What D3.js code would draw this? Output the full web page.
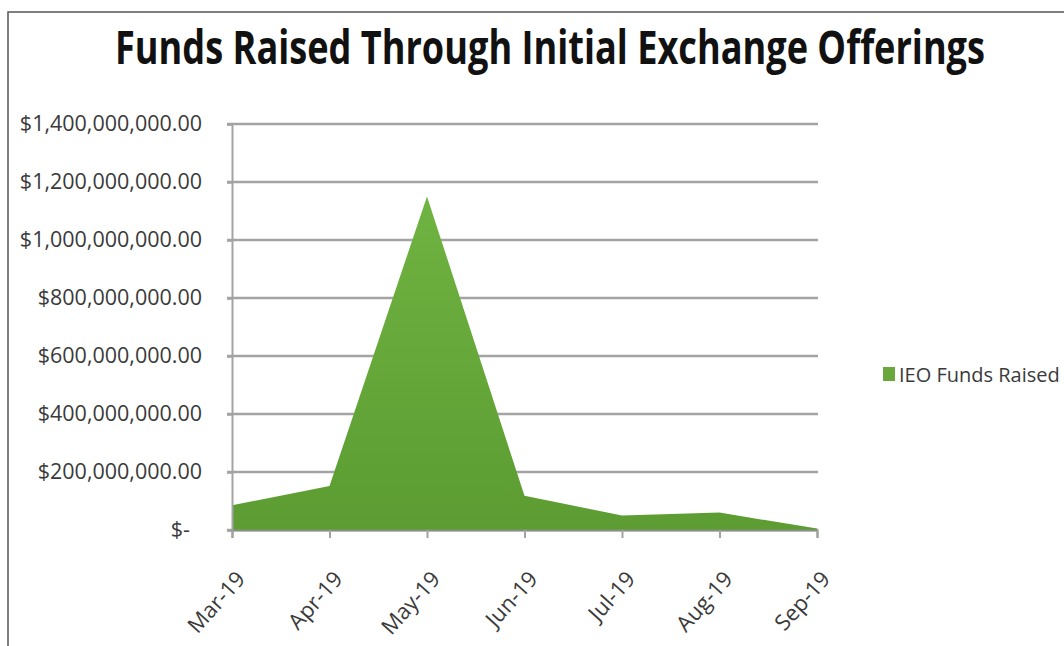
<!DOCTYPE html>
<html>
<head>
<meta charset="utf-8">
<script src="https://cdn.jsdelivr.net/npm/d3@7"></script>
<style>
  body { margin: 0; background: #fff; }
  svg { display: block; }
</style>
</head>
<body>
<script>
var w = 1064;
var h = 646;

// data
var months = ["Mar-19", "Apr-19", "May-19", "Jun-19", "Jul-19", "Aug-19", "Sep-19"];
var funds = [85000000, 152000000, 1150000000, 118000000, 50000000, 60000000, 5000000];
var yTicks = [0, 200000000, 400000000, 600000000, 800000000, 1000000000, 1200000000, 1400000000];
var seriesName = "IEO Funds Raised";

var plotLeft = 232, plotRight = 817, plotTop = 124, plotBottom = 530;

var svg = d3.select("body")
            .append("svg")
            .attr("width", w)
            .attr("height", h);

var defs = svg.append("defs");
var grad = defs.append("linearGradient")
    .attr("id", "green")
    .attr("x1", 0).attr("y1", 0).attr("x2", 0).attr("y2", 1);
grad.append("stop").attr("offset", "0%").attr("stop-color", "#6fb341");
grad.append("stop").attr("offset", "100%").attr("stop-color", "#5c9c32");

// outer frame
svg.append("path")
    .attr("d", "M8," + h + " V12 H" + w)
    .attr("fill", "none")
    .attr("stroke", "#555")
    .attr("stroke-width", 1.5);

svg.append("text")
    .text("Funds Raised Through Initial Exchange Offerings")
    .attr("x", 550)
    .attr("y", 64)
    .attr("text-anchor", "middle")
    .attr("font-family", "Open Sans")
    .attr("font-weight", "bold")
    .attr("font-size", "47px")
    .attr("textLength", 870)
    .attr("lengthAdjust", "spacingAndGlyphs")
    .attr("fill", "#111");

var x = d3.scalePoint().domain(months).range([plotLeft, plotRight]);
var y = d3.scaleLinear().domain([0, 1400000000]).range([plotBottom, plotTop]);

// gridlines
svg.append("g")
    .selectAll("line")
    .data(yTicks)
    .enter()
    .append("line")
    .attr("x1", plotLeft - 5)
    .attr("x2", plotRight + 1)
    .attr("y1", function(d){ return y(d); })
    .attr("y2", function(d){ return y(d); })
    .attr("stroke", "#a3a3a3")
    .attr("stroke-width", 2.5);

var area = d3.area()
    .x(function(d, i){ return x(months[i]); })
    .y0(y(0))
    .y1(function(d){ return y(d); });

svg.append("path")
    .datum(funds)
    .attr("d", area)
    .attr("fill", "url(#green)");

var fmt = d3.format(",.2f");
var yAxis = svg.append("g")
    .attr("transform", "translate(" + plotLeft + ",0)")
    .call(d3.axisLeft(y)
        .tickValues(yTicks)
        .tickSize(5)
        .tickPadding(25)
        .tickFormat(function(d){ return d === 0 ? "$-" : "$" + fmt(d); }));

yAxis.select(".domain").attr("stroke", "#a3a3a3").attr("stroke-width", 2);
yAxis.selectAll(".tick line").attr("stroke", "#a3a3a3").attr("stroke-width", 2.5);
yAxis.selectAll(".tick text")
    .attr("font-family", "Open Sans")
    .attr("font-size", "21.5px")
    .attr("fill", "#3a3a3a")
    .attr("dx", function(d){ return d === 0 ? "-12" : "0"; });

var xAxis = svg.append("g")
    .attr("transform", "translate(0," + plotBottom + ")")
    .call(d3.axisBottom(x).tickSize(8));

xAxis.select(".domain").attr("stroke", "#8a8f84").attr("stroke-width", 2);
xAxis.selectAll(".tick line").attr("stroke", "#a3a3a3").attr("stroke-width", 2);
xAxis.selectAll(".tick text")
    .attr("font-family", "Open Sans")
    .attr("font-size", "22px")
    .attr("fill", "#3a3a3a")
    .attr("text-anchor", "end")
    .attr("y", 0)
    .attr("dy", 0)
    .attr("transform", "translate(14,50) rotate(-48)");

// legend
svg.append("rect")
    .attr("x", 883)
    .attr("y", 367)
    .attr("width", 12)
    .attr("height", 14)
    .attr("fill", "#6aa83d");

svg.append("text")
    .text(seriesName)
    .attr("x", 899)
    .attr("y", 382)
    .attr("font-family", "Open Sans")
    .attr("font-size", "20px")
    .attr("fill", "#3a3a3a");
</script>
</body>
</html>
